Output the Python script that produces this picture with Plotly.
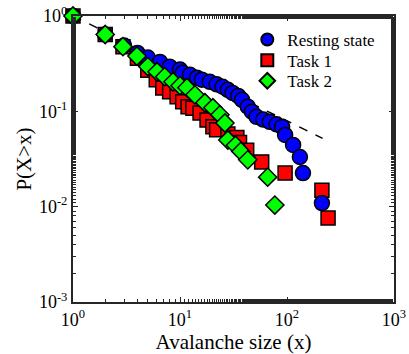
import plotly.graph_objects as go

# Resting state
rest_x = [1, 2, 3, 4, 5, 6.5, 8, 10, 10.6, 12.4, 14.4, 16, 19, 22, 25, 28, 31, 35, 38, 43, 47, 52, 60, 69, 80, 90, 96, 114, 132, 141, 212]
rest_y = [1.0, 0.64, 0.49, 0.41, 0.366, 0.33, 0.294, 0.274, 0.254, 0.242, 0.225, 0.215, 0.204, 0.192, 0.181, 0.168, 0.156, 0.145, 0.132, 0.112, 0.099, 0.0875, 0.082, 0.0776, 0.073, 0.0687, 0.0566, 0.0444, 0.0332, 0.0225, 0.0109]

# Task 1
t1_x = [1, 2, 2.93, 4, 5, 6, 6.9, 8, 9.4, 10.6, 11.9, 13.2, 15.4, 17.9, 20.3, 22, 28, 34, 36, 42, 58, 96, 212, 242]
t1_y = [1.0, 0.64, 0.477, 0.36, 0.27, 0.215, 0.176, 0.16, 0.142, 0.126, 0.112, 0.108, 0.096, 0.081, 0.069, 0.064, 0.058, 0.053, 0.047, 0.039, 0.0295, 0.0225, 0.0149, 0.0076]

# Task 2
t2_x = [1, 2, 2.93, 3.96, 5, 6.1, 7.2, 8.6, 10, 11.6, 13.8, 17.1, 20.3, 23.6, 26.3, 28, 33, 37, 43, 66, 77]
t2_y = [1.0, 0.64, 0.477, 0.38, 0.295, 0.26, 0.231, 0.204, 0.186, 0.177, 0.149, 0.123, 0.109, 0.092, 0.0755, 0.05, 0.044, 0.038, 0.031, 0.0204, 0.0104]

# power-law fit (dashed)
fit_exponent = -0.55
fit_x = [1, 215]
fit_y = [x ** fit_exponent for x in fit_x]

x_tickvals = [1, 10, 100, 1000]
x_ticktext = ["10<sup>0</sup>", "10<sup>1</sup>", "10<sup>2</sup>", "10<sup>3</sup>"]
y_tickvals = [0.001, 0.01, 0.1, 1]
y_ticktext = ["10<sup>-3</sup>", "10<sup>-2</sup>", "10<sup>-1</sup>", "10<sup>0</sup>"]

FONT = "Liberation Serif, Times New Roman, serif"
fig = go.Figure()
fig.add_trace(go.Scatter(x=fit_x, y=fit_y, mode="lines", showlegend=False,
                         line=dict(color="black", dash="dash", width=1.5), hoverinfo="skip"))
fig.add_trace(go.Scatter(x=t1_x, y=t1_y, mode="markers", name="Task 1", legend="legend2",
                         marker=dict(symbol="square", size=14, color="#ff0000",
                                     line=dict(color="black", width=1.5)), cliponaxis=False))
fig.add_trace(go.Scatter(x=rest_x, y=rest_y, mode="markers", name="Resting state", legend="legend",
                         marker=dict(symbol="circle", size=15, color="#0000ff",
                                     line=dict(color="black", width=1.5)), cliponaxis=False))
fig.add_trace(go.Scatter(x=t2_x, y=t2_y, mode="markers", name="Task 2", legend="legend3",
                         marker=dict(symbol="diamond", size=14, color="#00ff00",
                                     line=dict(color="black", width=1.5)), cliponaxis=False))

axis_common = dict(type="log", showgrid=False, zeroline=False, showline=True, linecolor="#262626",
                   linewidth=2, mirror="ticks", ticks="inside", ticklen=5, tickwidth=1.2,
                   tickcolor="#262626", automargin=False,
                   minor=dict(ticks="inside", ticklen=3, tickcolor="#262626", showgrid=False),
                   tickfont=dict(family=FONT, size=18, color="black"))
fig.update_xaxes(range=[0, 3], tickvals=x_tickvals, ticktext=x_ticktext,
                 title=dict(text="Avalanche size (x)", font=dict(family=FONT, size=21, color="black"), standoff=2),
                 **axis_common)
fig.update_yaxes(range=[-3, 0], tickvals=y_tickvals, ticktext=y_ticktext,
                 title=dict(text="P(X>x)", font=dict(family=FONT, size=21, color="black"), standoff=2),
                 **axis_common)

leg_common = dict(xanchor="left", yanchor="middle", bgcolor="rgba(0,0,0,0)",
                  font=dict(family=FONT, size=17, color="black"), itemsizing="constant")
fig.update_layout(
    width=409, height=354,
    margin=dict(l=73, r=15, t=16, b=52),
    font=dict(family=FONT, color="black"),
    plot_bgcolor="white", paper_bgcolor="white",
    legend=dict(x=0.543, y=0.916, **leg_common),
    legend2=dict(x=0.543, y=0.844, **leg_common),
    legend3=dict(x=0.543, y=0.772, **leg_common),
)
fig.write_html("out.html")
